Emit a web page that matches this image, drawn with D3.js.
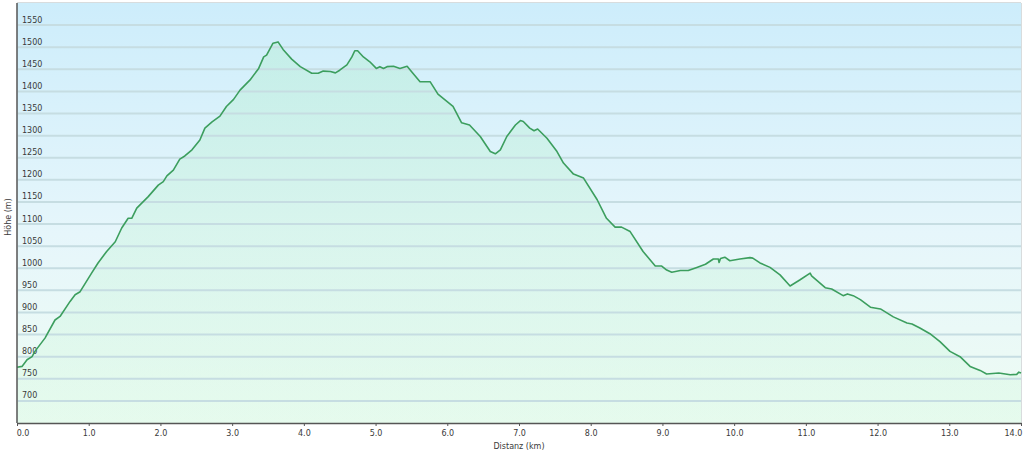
<!DOCTYPE html>
<html>
<head>
<meta charset="utf-8">
<script src="https://cdn.jsdelivr.net/npm/d3@7/dist/d3.min.js"></script>
<style>
  html, body { margin: 0; padding: 0; background: #ffffff; }
  svg { display: block; font-family: "DejaVu Sans", Verdana, sans-serif; }
</style>
</head>
<body>
<svg id="chart" width="1024" height="455"></svg>
<script>
// Distance along the route (km)
const distanceKm = [
  0.00, 0.07, 0.14, 0.21, 0.25, 0.39, 0.53, 0.60, 0.74, 0.81, 0.88, 1.04, 1.13, 1.25, 1.37, 1.46,
  1.55, 1.60, 1.67, 1.83, 1.97, 2.04, 2.09, 2.18, 2.27, 2.34, 2.44, 2.55, 2.62, 2.72, 2.83, 2.92,
  3.02, 3.11, 3.25, 3.37, 3.44, 3.48, 3.57, 3.64, 3.71, 3.83, 3.95, 4.11, 4.20, 4.27, 4.37, 4.44,
  4.50, 4.60, 4.67, 4.71, 4.75, 4.83, 4.92, 5.01, 5.06, 5.11, 5.16, 5.25, 5.34, 5.44, 5.50, 5.62,
  5.76, 5.87, 6.08, 6.20, 6.31, 6.46, 6.60, 6.67, 6.74, 6.83, 6.95, 7.02, 7.06, 7.15, 7.21, 7.26,
  7.39, 7.53, 7.62, 7.76, 7.90, 8.09, 8.22, 8.34, 8.43, 8.55, 8.73, 8.90, 8.99, 9.06, 9.13, 9.25,
  9.36, 9.48, 9.60, 9.71, 9.78, 9.79, 9.81, 9.87, 9.94, 10.08, 10.22, 10.26, 10.36, 10.50, 10.64,
  10.78, 10.92, 11.06, 11.08, 11.27, 11.36, 11.52, 11.58, 11.66, 11.76, 11.90, 12.04, 12.22, 12.41,
  12.48, 12.59, 12.73, 12.87, 13.01, 13.15, 13.29, 13.43, 13.52, 13.69, 13.85, 13.94, 13.97, 14.00
];
// Elevation (m)
const elevationM = [
  776, 778, 793, 800, 812, 842, 883, 891, 925, 940, 947, 989, 1012, 1038, 1060, 1091,
  1113, 1113, 1136, 1162, 1188, 1196, 1209, 1222, 1247, 1254, 1268, 1290, 1317, 1331, 1344, 1366,
  1382, 1403, 1426, 1452, 1478, 1482, 1509, 1512, 1495, 1473, 1456, 1441, 1441, 1446, 1445, 1442,
  1448, 1460, 1478, 1492, 1492, 1478, 1467, 1452, 1456, 1452, 1456, 1457, 1452, 1457, 1445, 1422,
  1422, 1394, 1366, 1329, 1324, 1298, 1264, 1259, 1268, 1298, 1324, 1334, 1332, 1317, 1311, 1315,
  1294, 1264, 1238, 1213, 1204, 1155, 1113, 1093, 1093, 1083, 1038, 1005, 1005, 996, 991, 995,
  995, 1002, 1009, 1021, 1021, 1013, 1022, 1025, 1017, 1021, 1024, 1023, 1012, 1002, 985,
  960, 974, 989, 983, 956, 953, 938, 942, 938, 929, 912, 908, 890, 876,
  874, 865, 852, 834, 812, 800, 778, 769, 761, 763, 759, 760, 765, 763
];
const xTickValues = [0, 1, 2, 3, 4, 5, 6, 7, 8, 9, 10, 11, 12, 13, 14];
const yTickValues = [700, 750, 800, 850, 900, 950, 1000, 1050, 1100, 1150, 1200, 1250, 1300, 1350, 1400, 1450, 1500, 1550];
const xTitle = "Distanz  (km)";
const yTitle = "Höhe (m)";

const data = distanceKm.map((d, i) => ({ km: d, h: elevationM[i] }));

const svg = d3.select("#chart");
const mLeft = 17, mRight = 1021, mTop = 3, mBottom = 423;
const x = d3.scaleLinear().domain([0, 14]).range([mLeft, mRight]);
const y = d3.scaleLinear().domain([650, 1600]).range([mBottom, mTop]);

const defs = svg.append("defs");
const bg = defs.append("linearGradient").attr("id", "bg").attr("x1", 0).attr("y1", 0).attr("x2", 0).attr("y2", 1);
bg.append("stop").attr("offset", "0%").attr("stop-color", "#cdedfb");
bg.append("stop").attr("offset", "55%").attr("stop-color", "#e6f6fb");
bg.append("stop").attr("offset", "100%").attr("stop-color", "#eefcf3");
const ag = defs.append("linearGradient").attr("id", "ag").attr("gradientUnits", "userSpaceOnUse")
  .attr("x1", 0).attr("x2", 0).attr("y1", mTop).attr("y2", mBottom);
ag.append("stop").attr("offset", "0%").attr("stop-color", "#a8ecc4").attr("stop-opacity", 0.35);
ag.append("stop").attr("offset", "100%").attr("stop-color", "#d6f8e2").attr("stop-opacity", 0.35);

// plot background
svg.append("rect").attr("x", mLeft).attr("y", mTop).attr("width", mRight - mLeft).attr("height", mBottom - mTop)
  .attr("fill", "url(#bg)");

// border top / right
svg.append("line").attr("x1", mLeft).attr("x2", mRight).attr("y1", mTop - 0.5).attr("y2", mTop - 0.5)
  .attr("stroke", "#d8dcdd").attr("stroke-width", 1);
svg.append("line").attr("x1", mRight + 0.5).attr("x2", mRight + 0.5).attr("y1", mTop).attr("y2", mBottom)
  .attr("stroke", "#d8dcdd").attr("stroke-width", 1);

// area
const area = d3.area().x(d => x(d.km)).y0(y(650)).y1(d => y(d.h));
svg.append("path").datum(data).attr("d", area).attr("fill", "url(#ag)");

// gridlines
svg.append("g").selectAll("line").data(yTickValues).join("line")
  .attr("x1", mLeft + 1).attr("x2", mRight).attr("y1", d => y(d)).attr("y2", d => y(d))
  .attr("stroke", "#c6dde2").attr("stroke-width", 2);

// y labels inside plot
svg.append("g").selectAll("text").data(yTickValues).join("text")
  .attr("x", mLeft + 5).attr("y", d => y(d) - 2.5)
  .attr("font-size", "8px").attr("fill", "#3a3a3a").text(d => d);

// line
const line = d3.line().x(d => x(d.km)).y(d => y(d.h));
svg.append("path").datum(data).attr("d", line).attr("fill", "none")
  .attr("stroke", "#3c9e5e").attr("stroke-width", 1.6).attr("stroke-linejoin", "round");

// x axis
const xAxis = d3.axisBottom(x).tickValues(xTickValues).tickFormat(d3.format(".1f")).tickSize(3).tickSizeOuter(0).tickPadding(4);
const gx = svg.append("g").attr("transform", `translate(0,${mBottom})`).call(xAxis);
gx.select(".domain").attr("stroke", "#555").attr("stroke-width", 1.5);
gx.selectAll(".tick line").attr("stroke", "#555");
gx.selectAll(".tick text").attr("font-size", "8px").attr("fill", "#3a3a3a").attr("font-family", "DejaVu Sans, sans-serif");
// keep the last label inside the frame
gx.selectAll(".tick text").filter(d => d === xTickValues[xTickValues.length - 1])
  .attr("text-anchor", "end").attr("dx", "0.1em");
gx.selectAll(".tick text").filter(d => d === xTickValues[0])
  .attr("text-anchor", "start").attr("dx", "-0.1em");

// y axis line
svg.append("line").attr("x1", mLeft).attr("x2", mLeft).attr("y1", mTop).attr("y2", mBottom)
  .attr("stroke", "#555").attr("stroke-width", 1.5);

// titles
svg.append("text").attr("x", (mLeft + mRight) / 2).attr("y", 449).attr("text-anchor", "middle")
  .attr("font-size", "8px").attr("fill", "#3a3a3a").text(xTitle);
svg.append("text").attr("transform", `translate(11,${(mTop + mBottom) / 2 + 4}) rotate(-90)`).attr("text-anchor", "middle")
  .attr("font-size", "8px").attr("fill", "#3a3a3a").text(yTitle);
</script>
</body>
</html>
